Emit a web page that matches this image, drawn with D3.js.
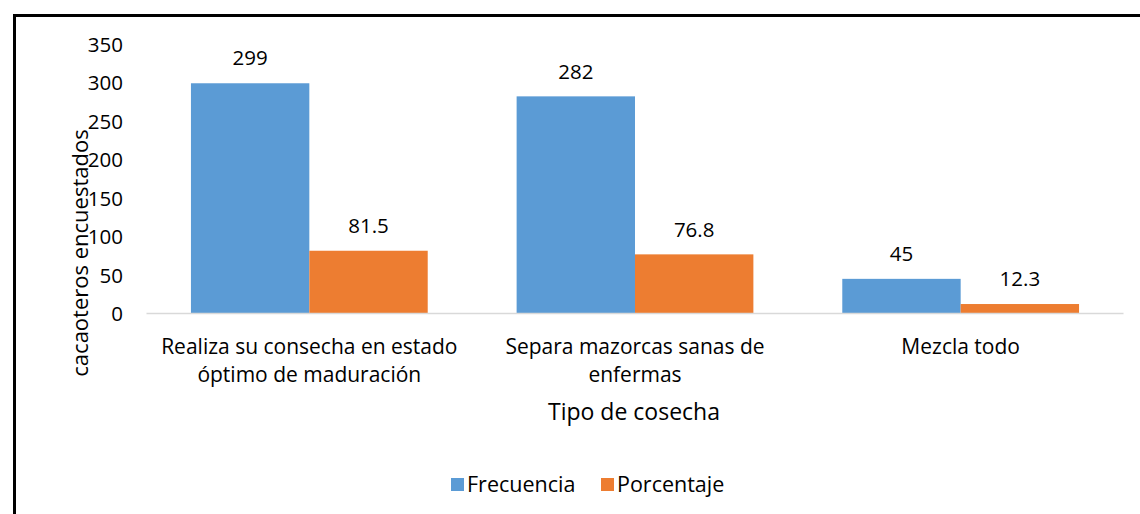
<!DOCTYPE html>
<html>
<head>
<meta charset="utf-8">
<script src="https://cdn.jsdelivr.net/npm/d3@7"></script>
<style>
  body { margin: 0; background: #fff; }
  svg text { font-family: "Open Sans", "Noto Sans", sans-serif; fill: #000; }
</style>
</head>
<body>
<div id="chart"></div>
<script>
// data
var categories = [
  ["Realiza su consecha en estado", "óptimo de maduración"],
  ["Separa mazorcas sanas de", "enfermas"],
  ["Mezcla todo"]
];
var seriesNames = ["Frecuencia", "Porcentaje"];
var frecuencia = [299, 282, 45];
var porcentaje = [81.5, 76.8, 12.3];
var yTicks = [0, 50, 100, 150, 200, 250, 300, 350];
var colors = ["#5B9BD5", "#ED7D31"];

var width = 1140, height = 514;
var plot = {left: 146.5, right: 1123.5, top: 44, bottom: 313.5};

var svg = d3.select("#chart").append("svg")
  .attr("width", width)
  .attr("height", height);

// outer frame (runs off right and bottom edges)
svg.append("rect")
  .attr("x", 14.5).attr("y", 15.5)
  .attr("width", 1140).attr("height", 520)
  .attr("fill", "none")
  .attr("stroke", "#000")
  .attr("stroke-width", 3);

var x0 = d3.scaleBand()
  .domain(d3.range(categories.length))
  .range([plot.left, plot.right])
  .paddingInner(0.273)
  .paddingOuter(0.1365);

var x1 = d3.scaleBand()
  .domain(d3.range(seriesNames.length))
  .range([0, x0.bandwidth()]);

var y = d3.scaleLinear()
  .domain([0, 350])
  .range([plot.bottom, plot.top]);

// y tick labels
var yAxis = d3.axisLeft(y).tickValues(yTicks).tickSize(0).tickPadding(0);
var gy = svg.append("g")
  .attr("transform", "translate(123,0)")
  .call(yAxis);
gy.select(".domain").remove();
gy.selectAll("text")
  .style("font-family", '"Open Sans", sans-serif')
  .style("font-size", "20.5px")
  .attr("fill", "#000")
  .attr("dy", "0.35em");

// bars
var rows = d3.range(categories.length).map(function(i) {
  return [frecuencia[i], porcentaje[i]];
});

var groups = svg.append("g").selectAll("g")
  .data(rows)
  .join("g")
  .attr("transform", function(d, i) { return "translate(" + x0(i) + ",0)"; });

groups.selectAll("rect")
  .data(function(d) { return d; })
  .join("rect")
  .attr("x", function(d, j) { return x1(j); })
  .attr("y", function(d) { return y(d); })
  .attr("width", x1.bandwidth())
  .attr("height", function(d) { return y(0) - y(d); })
  .attr("fill", function(d, j) { return colors[j]; });

groups.selectAll("text")
  .data(function(d) { return d; })
  .join("text")
  .attr("x", function(d, j) { return x1(j) + x1.bandwidth() / 2; })
  .attr("y", function(d) { return y(d) - 25; })
  .attr("dy", "0.35em")
  .attr("text-anchor", "middle")
  .style("font-size", "20.5px")
  .text(function(d) { return d; });

// baseline
svg.append("line")
  .attr("x1", plot.left).attr("x2", plot.right)
  .attr("y1", y(0)).attr("y2", y(0))
  .attr("stroke", "#d9d9d9")
  .attr("stroke-width", 1.5);

// category labels
var catG = svg.append("g").selectAll("text")
  .data(categories)
  .join("text")
  .attr("text-anchor", "middle")
  .attr("x", function(d, i) { return x0(i) + x0.bandwidth() / 2; })
  .attr("y", 347)
  .style("font-size", "21px");
catG.selectAll("tspan")
  .data(function(d) { return d; })
  .join("tspan")
  .attr("x", function() { return d3.select(this.parentNode).attr("x"); })
  .attr("dy", function(d, k) { return k === 0 ? "0.35em" : "28px"; })
  .text(function(d) { return d; });

// axis titles
svg.append("text")
  .attr("transform", "translate(80,253) rotate(-90)")
  .attr("text-anchor", "middle")
  .attr("dy", "0.35em")
  .style("font-size", "22px")
  .text("cacaoteros encuestados");

svg.append("text")
  .attr("x", 634).attr("y", 412)
  .attr("text-anchor", "middle")
  .attr("dy", "0.35em")
  .style("font-size", "23px")
  .text("Tipo de cosecha");

// legend
var legendX = [451, 601];
var lg = svg.append("g").selectAll("g")
  .data(seriesNames)
  .join("g")
  .attr("transform", function(d, i) { return "translate(" + legendX[i] + ",478)"; });
lg.append("rect")
  .attr("width", 13).attr("height", 13)
  .attr("fill", function(d, i) { return colors[i]; });
lg.append("text")
  .attr("x", 16).attr("y", 6.5)
  .attr("dy", "0.35em")
  .style("font-size", "21.5px")
  .text(function(d) { return d; });
</script>
</body>
</html>
